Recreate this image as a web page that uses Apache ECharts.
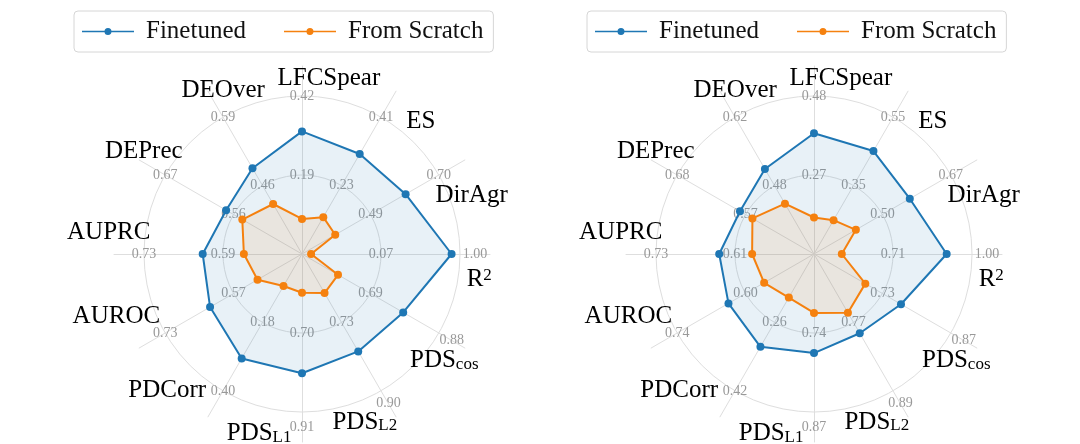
<!DOCTYPE html>
<html><head><meta charset="utf-8">
<script src="https://cdn.jsdelivr.net/npm/echarts@6/dist/echarts.min.js"></script>
<style>html,body{margin:0;padding:0;background:#fff}#c{width:1080px;height:444px}</style>
</head><body><div id="c"></div>
<script>
// Axis order: counter-clockwise from the top
const categories = ['LFCSpear','DEOver','DEPrec','AUPRC','AUROC','PDCorr','PDS_L1','PDS_L2','PDS_cos','R^2','DirAgr','ES'];
const seriesNames = ['Finetuned','From Scratch'];

// Left panel
const leftOuterTicks = [0.42, 0.59, 0.67, 0.73, 0.73, 0.40, 0.91, 0.90, 0.88, 1.00, 0.70, 0.41];
const leftMidTicks   = [0.19, 0.46, 0.56, 0.59, 0.57, 0.18, 0.70, 0.73, 0.69, 0.07, 0.49, 0.23];
const leftFinetuned  = [0.317, 0.493, 0.572, 0.626, 0.625, 0.296, 0.807, 0.802, 0.781, 0.901, 0.598, 0.313];
const leftScratch    = [0.062, 0.425, 0.546, 0.553, 0.514, 0.063, 0.593, 0.657, 0.600, -0.753, 0.382, 0.147];

// Right panel
const rightOuterTicks = [0.48, 0.62, 0.68, 0.73, 0.74, 0.42, 0.87, 0.89, 0.87, 1.00, 0.67, 0.55];
const rightMidTicks   = [0.27, 0.48, 0.57, 0.61, 0.60, 0.26, 0.74, 0.77, 0.73, 0.71, 0.50, 0.35];
const rightFinetuned  = [0.381, 0.514, 0.579, 0.634, 0.635, 0.317, 0.773, 0.789, 0.768, 0.907, 0.568, 0.451];
const rightScratch    = [0.157, 0.443, 0.559, 0.584, 0.562, 0.202, 0.707, 0.753, 0.695, 0.522, 0.434, 0.249];

const BLUE = '#1f77b4', ORANGE = '#f5810f';
const SERIF = 'Liberation Serif';
const GRID = '#dedede';
const TICK = '#999';

function richName(n) {
  if (n.indexOf('_') > 0) { const p = n.split('_'); return p[0] + '{sub|' + p[1] + '}'; }
  if (n.indexOf('^') > 0) { const p = n.split('^'); return p[0] + '{sup|' + p[1] + '}'; }
  return n;
}
function padFor(dx, dy) {
  return [Math.max(0, 2 * dy), Math.max(0, -2 * dx), Math.max(0, -2 * dy), Math.max(0, 2 * dx)];
}

const D2R = Math.PI / 180;
const radars = [], series = [], legends = [];
function addPanel(cx, outer, mid, fine, scratch, legendLeft) {
  const cy = 254, R = 158;
  const base = radars.length;
  // data radar: rings + per-axis tick labels
  radars.push({
    center: [cx, cy], radius: R, startAngle: 90, shape: 'circle', splitNumber: 2,
    indicator: categories.map((c, i) => {
      const mn = 2 * mid[i] - outer[i], mx = outer[i];
      const th = 90 + 30 * i;
      // outer labels in the lower-right quadrant are pushed outwards
      const push = (th >= 270 && th <= 360) ? 15 : 0;
      const pad = padFor(push * Math.cos(th * D2R), -push * Math.sin(th * D2R));
      return { name: c, min: mn, max: mx,
        axisLabel: {
          formatter: v => Math.abs(v - mn) < 1e-6 ? '' :
            (push && Math.abs(v - mx) < 1e-6 ? '{o|' + v.toFixed(2) + '}' : v.toFixed(2)),
          rich: { o: { padding: pad, fontSize: 14, fontFamily: SERIF, color: TICK } }
        } };
    }),
    axisName: { show: false },
    axisLine: { show: false },
    splitArea: { show: false },
    splitLine: { lineStyle: { color: GRID, width: 1 } },
    axisLabel: { show: true, fontSize: 14, color: TICK, fontFamily: SERIF, margin: 0, align: 'center', verticalAlign: 'middle' }
  });
  // spokes radar (longer spokes)
  radars.push({
    center: [cx, cy], radius: 188, startAngle: 90, shape: 'circle', splitNumber: 1,
    indicator: categories.map(c => ({ name: '', min: 0, max: 1 })),
    axisName: { show: false },
    axisLine: { show: true, lineStyle: { color: GRID, width: 1 } },
    splitArea: { show: false }, splitLine: { show: false }, axisLabel: { show: false }
  });
  // names radar: labels on a slightly distorted ring, rotated clockwise
  const rot = -9.1;
  radars.push({
    center: [cx - 8, cy + 2], radius: R, startAngle: 90 + rot, shape: 'circle', splitNumber: 1, nameGap: 26,
    indicator: categories.map((c, i) => {
      const th = 90 + 30 * i;
      const phi = (th + rot) * D2R;
      const psi = (th + rot - 3.7 * Math.sin(2 * th * D2R) + 2.0 * Math.cos(2 * th * D2R)) * D2R;
      const rr = 184 + 2.7 * Math.cos(2 * th * D2R) + 2.5 * Math.sin(2 * th * D2R);
      const dx = rr * (Math.cos(psi) - Math.cos(phi));
      const dy = -rr * (Math.sin(psi) - Math.sin(phi));
      return { name: richName(c), min: 0, max: 1, nameGap: rr - R, nameTextStyle: { padding: padFor(dx, dy) } };
    }),
    axisName: { show: true, color: '#000', fontFamily: SERIF, fontSize: 25, align: 'center', verticalAlign: 'middle',
      rich: {
        sub: { fontFamily: SERIF, fontSize: 17, color: '#000', verticalAlign: 'bottom', lineHeight: 14 },
        sup: { fontFamily: SERIF, fontSize: 17, color: '#000', verticalAlign: 'top', lineHeight: 18 }
      } },
    axisLine: { show: false }, splitArea: { show: false }, splitLine: { show: false }, axisLabel: { show: false }
  });
  series.push({
    type: 'radar', radarIndex: base, symbol: 'circle', symbolSize: 8, z: 5,
    emphasis: { disabled: true },
    data: [
      { name: seriesNames[0], value: fine, itemStyle: { color: BLUE }, lineStyle: { color: BLUE, width: 2 }, areaStyle: { color: BLUE, opacity: 0.1 } },
      { name: seriesNames[1], value: scratch, itemStyle: { color: ORANGE }, lineStyle: { color: ORANGE, width: 2 }, areaStyle: { color: ORANGE, opacity: 0.1 } }
    ]
  });
  legends.push({
    left: legendLeft, top: 11, orient: 'horizontal', data: seriesNames,
    icon: 'path://M0,4.3H52V5.7H0Z M26,1.5A3.5,3.5 0 1 1 25.99,1.5Z',
    itemWidth: 52, itemHeight: 10, itemGap: 38,
    padding: [8, 10, 8, 8],
    borderColor: '#d6d6d6', borderWidth: 1, borderRadius: 4,
    selectedMode: false,
    textStyle: { fontFamily: SERIF, fontSize: 25, color: '#111', padding: [0, 0, 0, 7], lineHeight: 24 }
  });
}
addPanel(302, leftOuterTicks, leftMidTicks, leftFinetuned, leftScratch, 74);
addPanel(814, rightOuterTicks, rightMidTicks, rightFinetuned, rightScratch, 587);

const chart = echarts.init(document.getElementById('c'), null, { renderer: 'canvas' });
chart.setOption({ animation: false, backgroundColor: '#fff', legend: legends, radar: radars, series: series });
</script></body></html>
